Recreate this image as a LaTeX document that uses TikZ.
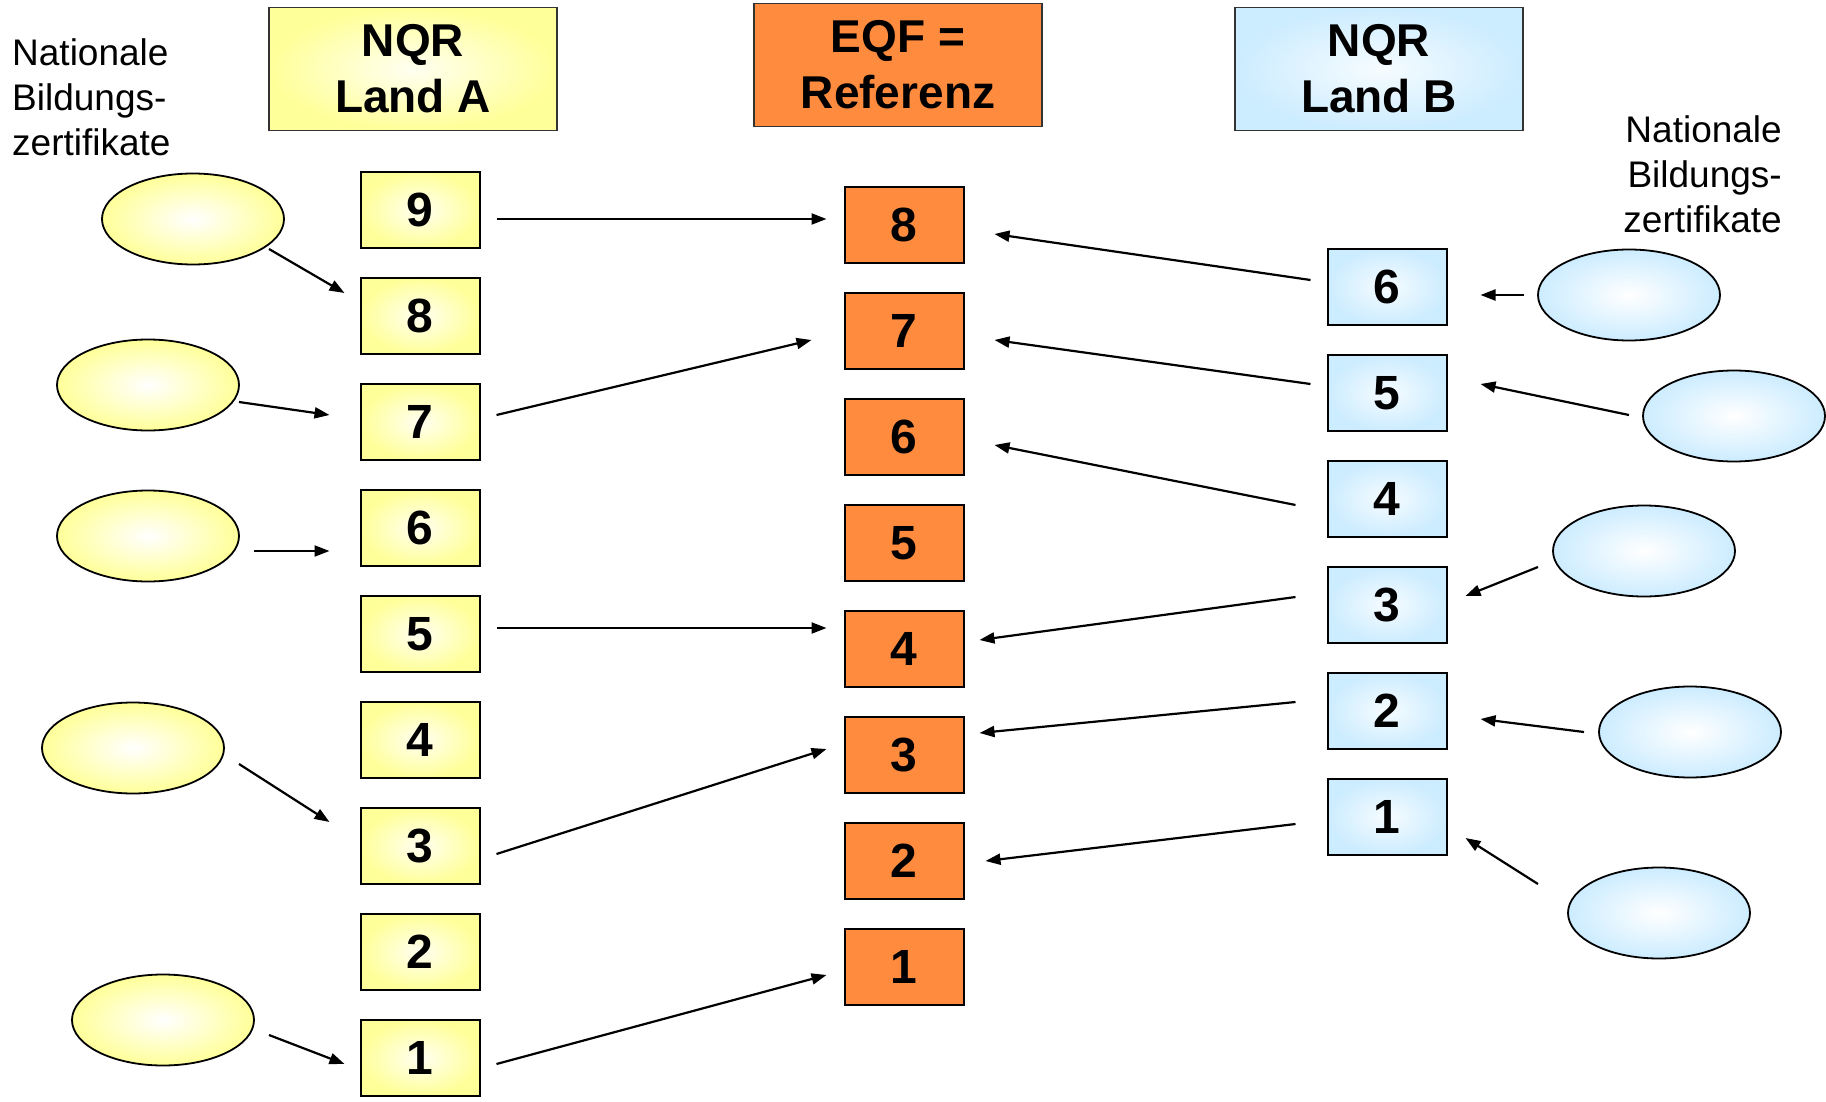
\documentclass[tikz,border=0pt]{standalone}
\usepackage{fontspec}
\setmainfont{Liberation Sans}
\usetikzlibrary{arrows.meta,calc,shapes.geometric}
\definecolor{ylw}{HTML}{FFFF99}
\definecolor{ylwc}{HTML}{FFFFF2}
\definecolor{blu}{HTML}{CCECFF}
\definecolor{bluc}{HTML}{F6FCFF}
\definecolor{org}{HTML}{FF8C3E}
\definecolor{bord}{HTML}{333333}
\begin{document}
\begin{tikzpicture}[x=1pt,y=-1pt,
 box/.style={draw=black, line width=2pt, minimum width=119pt, minimum height=76pt, inner sep=0pt, font=\fontsize{48}{48}\selectfont\bfseries},
 ybox/.style={box, shading=radial, inner color=ylwc, outer color=ylw},
 bbox/.style={box, shading=radial, inner color=bluc, outer color=blu},
 obox/.style={box, fill=org},
 head/.style={draw=bord, line width=1.5pt, minimum width=288pt, minimum height=123pt, inner sep=0pt, align=center, font=\fontsize{46}{56}\selectfont\bfseries},
 cert/.style={draw=black, line width=1.8pt, ellipse, minimum width=182pt, minimum height=91pt, inner sep=0pt},
 ycert/.style={cert, shading=radial, inner color=white, outer color=ylw},
 bcert/.style={cert, shading=radial, inner color=white, outer color=blu},
 lbl/.style={inner sep=0pt, font=\fontsize{37}{45}\selectfont},
 arr/.style={-{Triangle[length=15pt,width=11pt]}, line width=2.2pt}
]
\useasboundingbox (0,0) rectangle (1826,1102);

% headers
\node[head, shading=radial, inner color=ylwc, outer color=ylw] (hA) at (413,69) {NQR\\Land A};
\node[head, fill=org] (hE) at (898,65) {EQF =\\Referenz};
\node[head, shading=radial, inner color=bluc, outer color=blu] (hB) at (1379,69) {NQR\\Land B};

\node[lbl, align=left, anchor=north west] (tL) at (12,38) {Nationale\\Bildungs-\\zertifikate};
\node[lbl, align=right, anchor=north east] (tR) at (1782,115) {Nationale\\Bildungs-\\zertifikate};

% column A
\foreach \n/\y in {9/210,8/316,7/422,6/528,5/634,4/740,3/846,2/952,1/1058}
  \node[ybox] (a\n) at (420,\y) {\n};
% EQF column
\foreach \n/\y in {8/225,7/331,6/437,5/543,4/649,3/755,2/861,1/967}
  \node[obox] (e\n) at (904,\y) {\n};
% column B
\foreach \n/\y in {6/287,5/393,4/499,3/605,2/711,1/817}
  \node[bbox] (b\n) at (1387,\y) {\n};

% certificates
\node[ycert] (l1) at (193,219) {};
\node[ycert] (l2) at (148,385) {};
\node[ycert] (l3) at (148,536) {};
\node[ycert] (l4) at (133,748) {};
\node[ycert] (l5) at (163,1020) {};
\node[bcert] (r1) at (1629,295) {};
\node[bcert] (r2) at (1734,416) {};
\node[bcert] (r3) at (1644,551) {};
\node[bcert] (r4) at (1690,732) {};
\node[bcert] (r5) at (1659,913) {};

% A -> EQF
\draw[arr] ($(a9.east)+(16,9)$) -- ($(e8.west)+(-17,-6)$);
\draw[arr] ($(a7.east)+(16,-7)$) -- ($(e7.west)+(-32,9)$);
\draw[arr] ($(a5.east)+(16,-6)$) -- ($(e4.west)+(-17,-21)$);
\draw[arr] ($(a3.east)+(16,8)$) -- ($(e3.west)+(-17,-6)$);
\draw[arr] ($(a1.east)+(16,6)$) -- ($(e1.west)+(-17,8)$);

% B -> EQF
\draw[arr] ($(b6.west)+(-16,-7)$) -- ($(e8.east)+(30,9)$);
\draw[arr] ($(b5.west)+(-16,-9)$) -- ($(e7.east)+(30,9)$);
\draw[arr] ($(b4.west)+(-31,6)$) -- ($(e6.east)+(30,8)$);
\draw[arr] ($(b3.west)+(-31,-8)$) -- ($(e4.east)+(15,-9)$);
\draw[arr] ($(b2.west)+(-31,-9)$) -- ($(e3.east)+(15,-22)$);
\draw[arr] ($(b1.west)+(-31,7)$) -- ($(e2.east)+(21,0)$);

% left certificates -> A
\draw[arr] ($(l1)+(76,30)$) -- ($(a8.west)+(-15,-23)$);
\draw[arr] ($(l2)+(91,17)$) -- ($(a7.west)+(-30,-7)$);
\draw[arr] ($(l3)+(106,15)$) -- ($(a6.west)+(-30,23)$);
\draw[arr] ($(l4)+(106,16)$) -- ($(a3.west)+(-30,-24)$);
\draw[arr] ($(l5)+(106,15)$) -- ($(a1.west)+(-15,6)$);

% right certificates -> B
\draw[arr] ($(r1)+(-105,0)$) -- ($(b6.east)+(33,8)$);
\draw[arr] ($(r2)+(-105,-1)$) -- ($(b5.east)+(33,-9)$);
\draw[arr] ($(r3)+(-106,16)$) -- ($(b3.east)+(18,-9)$);
\draw[arr] ($(r4)+(-106,0)$) -- ($(b2.east)+(33,8)$);
\draw[arr] ($(r5)+(-121,-29)$) -- ($(b1.east)+(18,21)$);
\end{tikzpicture}
\end{document}
